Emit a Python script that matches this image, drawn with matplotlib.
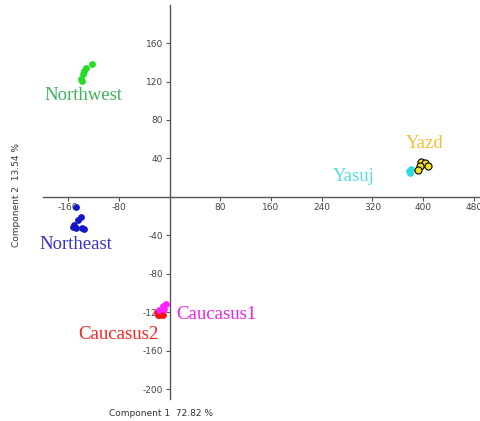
import matplotlib
matplotlib.use("Agg")
import matplotlib.pyplot as plt

# PCA scores per population (Component 1, Component 2)
northwest_x = [-122, -132, -135, -136, -140, -138]
northwest_y = [138, 134, 131, 128, 123, 121]
northeast_x = [-147, -140, -144, -151, -147, -138, -135, -152]
northeast_y = [-11, -21, -24, -29, -32, -32, -33, -31]
caucasus1_x = [-5, -10, -17, -8]
caucasus1_y = [-111, -114, -118, -117]
caucasus2_x = [-15, -10, -18, -12, -20]
caucasus2_y = [-123, -123, -123, -121, -120]
yasuj_x = [381, 380, 378]
yasuj_y = [29, 25, 27]
yazd_x = [397, 403, 408, 395, 392]
yazd_y = [36, 35, 32, 32, 28]

x_ticks = [-160, -80, 80, 160, 240, 320, 400, 480]
y_ticks = [160, 120, 80, 40, -40, -80, -120, -160, -200]

fig = plt.figure(figsize=(4.8, 4.21), dpi=100)
ax = fig.add_axes([0.089, 0.053, 0.9115, 0.936])
ax.set_xlim(-200, 490)
ax.set_ylim(-210, 200)

ms = 15
ax.scatter(northwest_x, northwest_y, s=ms, color="#22dd22", zorder=3)
ax.scatter(northeast_x, northeast_y, s=ms, color="#1515c8", zorder=3)
ax.scatter(caucasus2_x, caucasus2_y, s=ms, color="#ff1010", zorder=3)
ax.scatter(caucasus1_x, caucasus1_y, s=ms, color="#ff20ff", zorder=4)
ax.scatter(yasuj_x, yasuj_y, s=ms, color="#30dada", zorder=3)
ax.scatter(yazd_x, yazd_y, s=26, facecolor="#f2e020", edgecolor="black",
           linewidth=0.8, zorder=3)

serif = ["Liberation Serif", "DejaVu Serif"]
lab_fs = 13.5
ax.text(-135, 105, "Northwest", color="#3cb45a", fontsize=lab_fs,
        family=serif, ha="center", va="center")
ax.text(-147, -50, "Northeast", color="#3434c8", fontsize=lab_fs,
        family=serif, ha="center", va="center")
ax.text(11, -122, "Caucasus1", color="#ee22ee", fontsize=lab_fs,
        family=serif, ha="left", va="center")
ax.text(-81, -143, "Caucasus2", color="#ff2020", fontsize=lab_fs,
        family=serif, ha="center", va="center")
ax.text(291, 21, "Yasuj", color="#55dde5", fontsize=lab_fs,
        family=serif, ha="center", va="center")
ax.text(403, 56, "Yazd", color="#f0c030", fontsize=lab_fs,
        family=serif, ha="center", va="center")

# axes crossing at the origin
for side in ("top", "right"):
    ax.spines[side].set_visible(False)
ax.spines["left"].set_position(("data", 0))
ax.spines["bottom"].set_position(("data", 0))
for side in ("left", "bottom"):
    ax.spines[side].set_color("#555555")
    ax.spines[side].set_linewidth(1.0)

ax.set_xticks(x_ticks)
ax.set_yticks(y_ticks)
ax.set_xticklabels([str(v) for v in x_ticks])
ax.set_yticklabels([str(v) for v in y_ticks])
ax.tick_params(axis="both", direction="out", length=3, width=0.8,
               colors="#555555", labelsize=6.5, labelcolor="#444444", pad=1.5)

fig.text(161 / 480, 1 - 413 / 421, "Component 1  72.82 %", fontsize=6.5,
         color="#333333", ha="center", va="center")
fig.text(17 / 480, 1 - 195 / 421, "Component 2  13.54 %", fontsize=6.5,
         color="#333333", ha="center", va="center", rotation=90)

fig.savefig("out.png", dpi=100)
